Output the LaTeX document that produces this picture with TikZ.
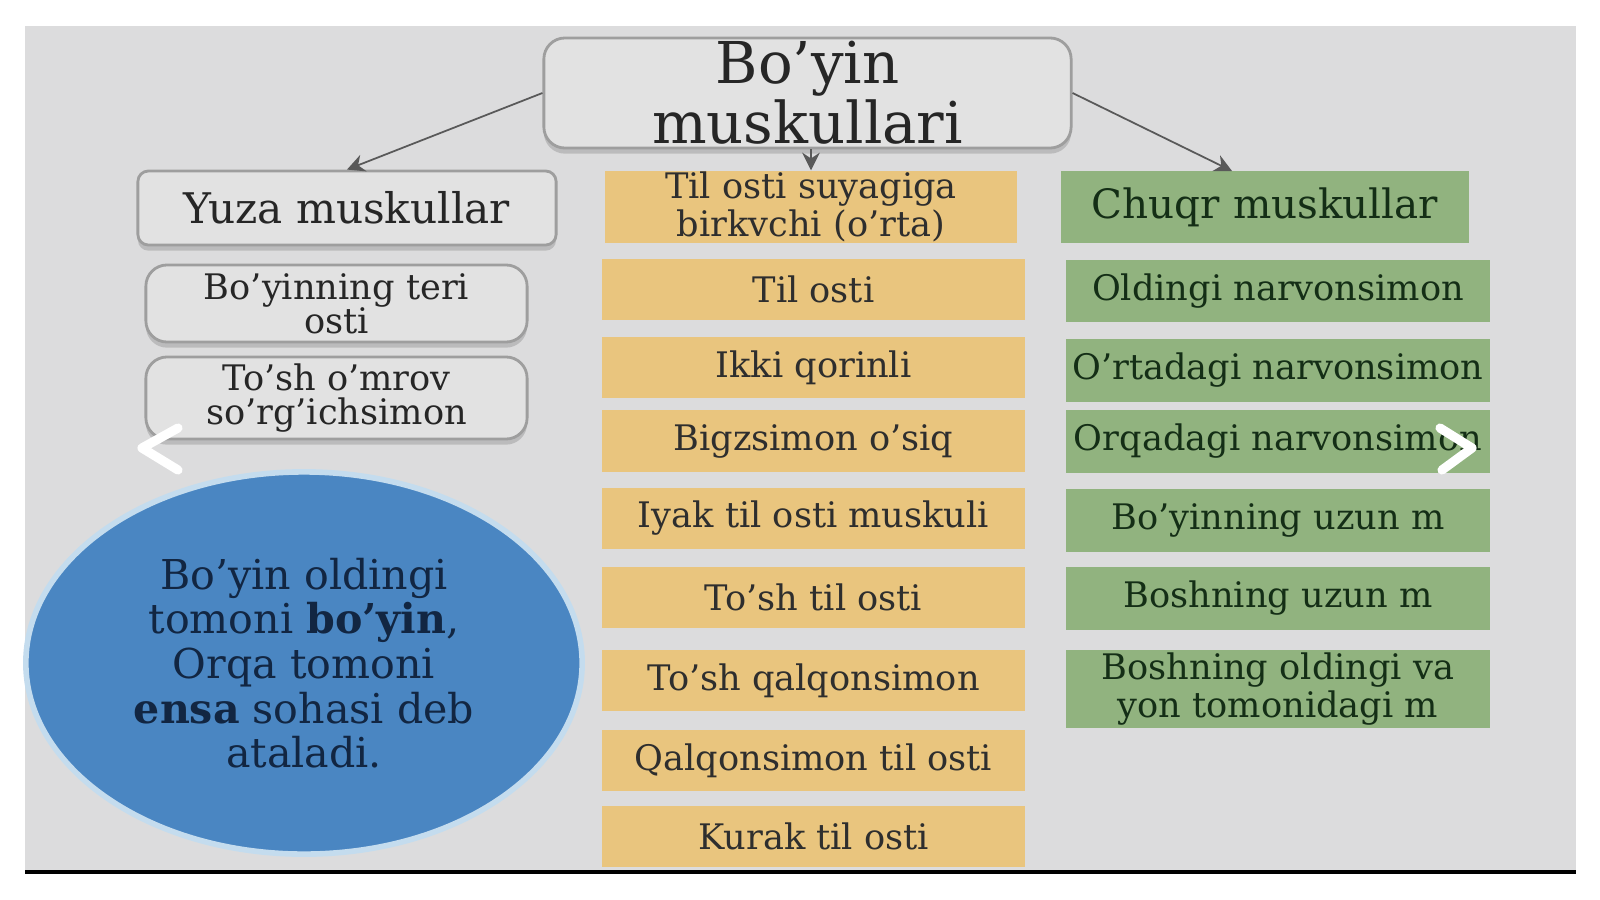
\documentclass[tikz,border=0pt]{standalone}
\usepackage{fontspec}
\setmainfont{DejaVu Serif}
\usetikzlibrary{arrows.meta,shadows,shapes.geometric}

\definecolor{panelgrey}{RGB}{220,220,221}
\definecolor{boxgrey}{RGB}{226,226,226}
\definecolor{boxedge}{RGB}{158,158,158}
\definecolor{tanfill}{RGB}{233,197,126}
\definecolor{sagefill}{RGB}{145,179,127}
\definecolor{discblue}{RGB}{74,134,194}
\definecolor{discrim}{RGB}{196,220,238}
\definecolor{navytext}{RGB}{18,38,66}
\definecolor{greentext}{RGB}{20,46,22}

\tikzset{
  greybox/.style={draw=boxedge, fill=boxgrey, rounded corners=6pt, line width=0.8pt,
    inner sep=0pt, align=center, text=black!85,
    drop shadow={shadow xshift=0pt, shadow yshift=-1.6pt, opacity=0.35}},
  tanbox/.style={fill=tanfill, inner sep=0pt, align=center, text=black!82,
    minimum width=4.23cm, minimum height=0.61cm, font=\fontsize{10}{10}\selectfont},
  sagebox/.style={fill=sagefill, inner sep=0pt, align=center, text=greentext,
    minimum width=4.24cm, minimum height=0.62cm, font=\fontsize{10}{10.7}\selectfont},
  link/.style={draw=black!65, line width=0.5pt, -{Stealth[length=5pt,width=5pt]}},
  chevron/.style={draw=white, line width=2.6pt, line cap=round, line join=round}
}

\begin{document}
\begin{tikzpicture}[x=0.01cm, y=-0.01cm]
    \useasboundingbox (0,0) rectangle (1600,900);

    % 1. Background panel
    \fill[panelgrey] (25,26) rectangle (1576,872);
    \draw[black, line width=0.9pt] (25,872) -- (1576,872);

    % 2. Title and left column
    \node[greybox, minimum width=5.27cm, minimum height=1.10cm,
          font=\fontsize{16.4}{16}\selectfont] (title) at (807.5,93) {Bo’yin\\muskullari};

    \node[greybox, rounded corners=3pt, minimum width=4.18cm, minimum height=0.74cm,
          font=\fontsize{12}{12}\selectfont] (yuza) at (347,208) {Yuza muskullar};
    \node[greybox, minimum width=3.81cm, minimum height=0.77cm,
          font=\fontsize{10}{9.6}\selectfont] (teri) at (336.5,303.5) {Bo’yinning teri\\osti};
    \node[greybox, minimum width=3.81cm, minimum height=0.82cm,
          font=\fontsize{10}{9.6}\selectfont] (omrov) at (336.5,398) {To’sh o’mrov\\so’rg’ichsimon};

    % the blue disc
    \node[ellipse, fill=discblue, draw=discrim, line width=1.6pt,
          minimum width=5.56cm, minimum height=3.82cm, inner sep=0pt,
          align=center, text=navytext, font=\fontsize{11.7}{12.7}\selectfont] (disc) at (304,663)
          {Bo’yin oldingi\\tomoni \textbf{bo’yin},\\Orqa tomoni\\\textbf{ensa} sohasi deb\\ataladi.};

    % 3. Middle column
    \node[tanbox, minimum width=4.12cm, minimum height=0.72cm,
          font=\fontsize{10}{9.8}\selectfont] (mid1) at (811,207) {Til osti suyagiga\\birkvchi (o’rta)};
    \foreach \n/\yc/\txt in {2/289.5/Til osti, 3/367.5/Ikki qorinli, 4/441/Bigzsimon o’siq,
                             5/518.5/Iyak til osti muskuli, 6/597.5/To’sh til osti,
                             7/680.5/To’sh qalqonsimon, 8/760.5/Qalqonsimon til osti,
                             9/836.5/Kurak til osti}
        \node[tanbox] (mid\n) at (813.5,\yc) {\txt};

    % 4. Right column
    \node[sagebox, minimum width=4.08cm, minimum height=0.72cm,
          font=\fontsize{11.5}{11.5}\selectfont] (deep1) at (1265,207) {Chuqr muskullar};
    \foreach \n/\yc/\txt in {2/291/Oldingi narvonsimon, 3/370.5/O’rtadagi narvonsimon,
                             4/441.5/Orqadagi narvonsimon, 5/520.5/Bo’yinning uzun m,
                             6/598.5/Boshning uzun m}
        \node[sagebox] (deep\n) at (1278,\yc) {\txt};
    \node[sagebox, minimum height=0.78cm] (deep7) at (1278,689) {Boshning oldingi va\\yon tomonidagi m};

    % 5. Connectors
    \coordinate (deepTop) at (1232,171);
    \draw[link] (title.west) -- (yuza.north);
    \draw[link] (title.south -| mid1.north) -- (mid1.north);
    \draw[link] (title.east) -- (deepTop);

    % 6. Slide arrows
    \draw[chevron] (178,428) -- (142,448) -- (178,470);
    \draw[chevron] (1440,428) -- (1472,448) -- (1442,470);
\end{tikzpicture}
\end{document}
